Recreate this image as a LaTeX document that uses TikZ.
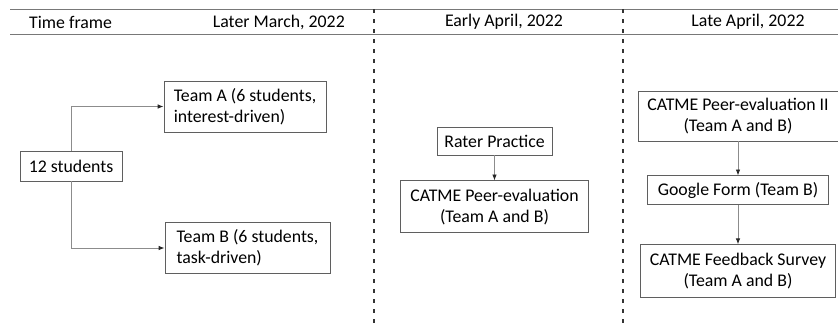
\documentclass[tikz,border=0pt]{standalone}
\usepackage{fontspec}
\setmainfont{Carlito}
\usetikzlibrary{arrows.meta,positioning}
\definecolor{boxgray}{RGB}{95,95,95}
\definecolor{linkgray}{RGB}{140,140,140}
\definecolor{rulegray}{RGB}{120,120,120}

\begin{document}
\begin{tikzpicture}[x=0.03cm,y=-0.03cm,% one unit is one pixel of the layout, y grows downwards
					every node/.style={
						font=\fontsize{15.2pt}{18pt}\selectfont,
						align=center,		% so that "\\" breaks the line
						inner sep=0pt
						},
					box/.style={rectangle,draw=boxgray,line width=0.75pt,fill=white},
					teambox/.style={box,align=left,minimum width=4.86cm,minimum height=1.53cm},
					every edge/.style={draw=linkgray,line width=0.7pt,-{Latex[length=5pt,width=3.8pt,color=black!85]}},
					elbow/.style={to path={|- (\tikztotarget)}},	% up/down first, then across
					period/.style={draw=black!80,line width=1.1pt,dash pattern=on 0.13cm off 0.17cm}
					]
\useasboundingbox (0,0) rectangle (838,329);

% header rows and period separators
\coordinate (hl) at (10,9);
\coordinate (hr) at (838,9);
\coordinate (ml) at (10,34);
\coordinate (mr) at (838,34);
\draw[rulegray,line width=0.8pt] (hl) -- (hr) (ml) -- (mr);
\coordinate (s1t) at (374,9);
\coordinate (s1b) at (374,329);
\coordinate (s2t) at (623,9);
\coordinate (s2b) at (623,329);
\draw[period] (s1t) -- (s1b) (s2t) -- (s2b);

\node[anchor=west](H0) at (29,22){Time frame};
\node[anchor=east](H1) at (345,22){Later March, 2022};
\node(H2) at (504,22){Early April, 2022};
\node(H3) at (748,22){Late April, 2022};

% later March: grouping
\node[box,minimum width=3.06cm,minimum height=0.9cm](S) at (71,166){12 students};
\node[teambox](TA) at (245,106.5){Team A (6 students,\\ interest-driven)};
\node[teambox,minimum width=4.95cm](TB) at (247.5,248){Team B (6 students,\\ task-driven)};

% early April
\node[box,minimum width=3.45cm,minimum height=0.84cm](RP) at (494.5,141){Rater Practice};
\node[box,minimum width=5.64cm,minimum height=1.56cm](PE)[below=0.75cm of RP]{CATME Peer-evaluation \\ (Team A and B)};

% late April
\node[box,minimum width=6cm,minimum height=1.5cm](PE2) at (738,116){CATME Peer-evaluation II \\ (Team A and B)};
\node[box,minimum width=5.43cm,minimum height=0.87cm](GF)[below=1.02cm of PE2]{Google Form (Team B)};
\node[box,minimum width=5.85cm,minimum height=1.59cm](FS)[below=1.17cm of GF]{CATME Feedback Survey \\ (Team A and B)};

\path
(S.north) edge [elbow] (TA.west)
(S.south) edge [elbow] (TB.west)
(RP) edge (PE)
(PE2) edge (GF)
(GF) edge (FS)
;
\end{tikzpicture}
\end{document}
